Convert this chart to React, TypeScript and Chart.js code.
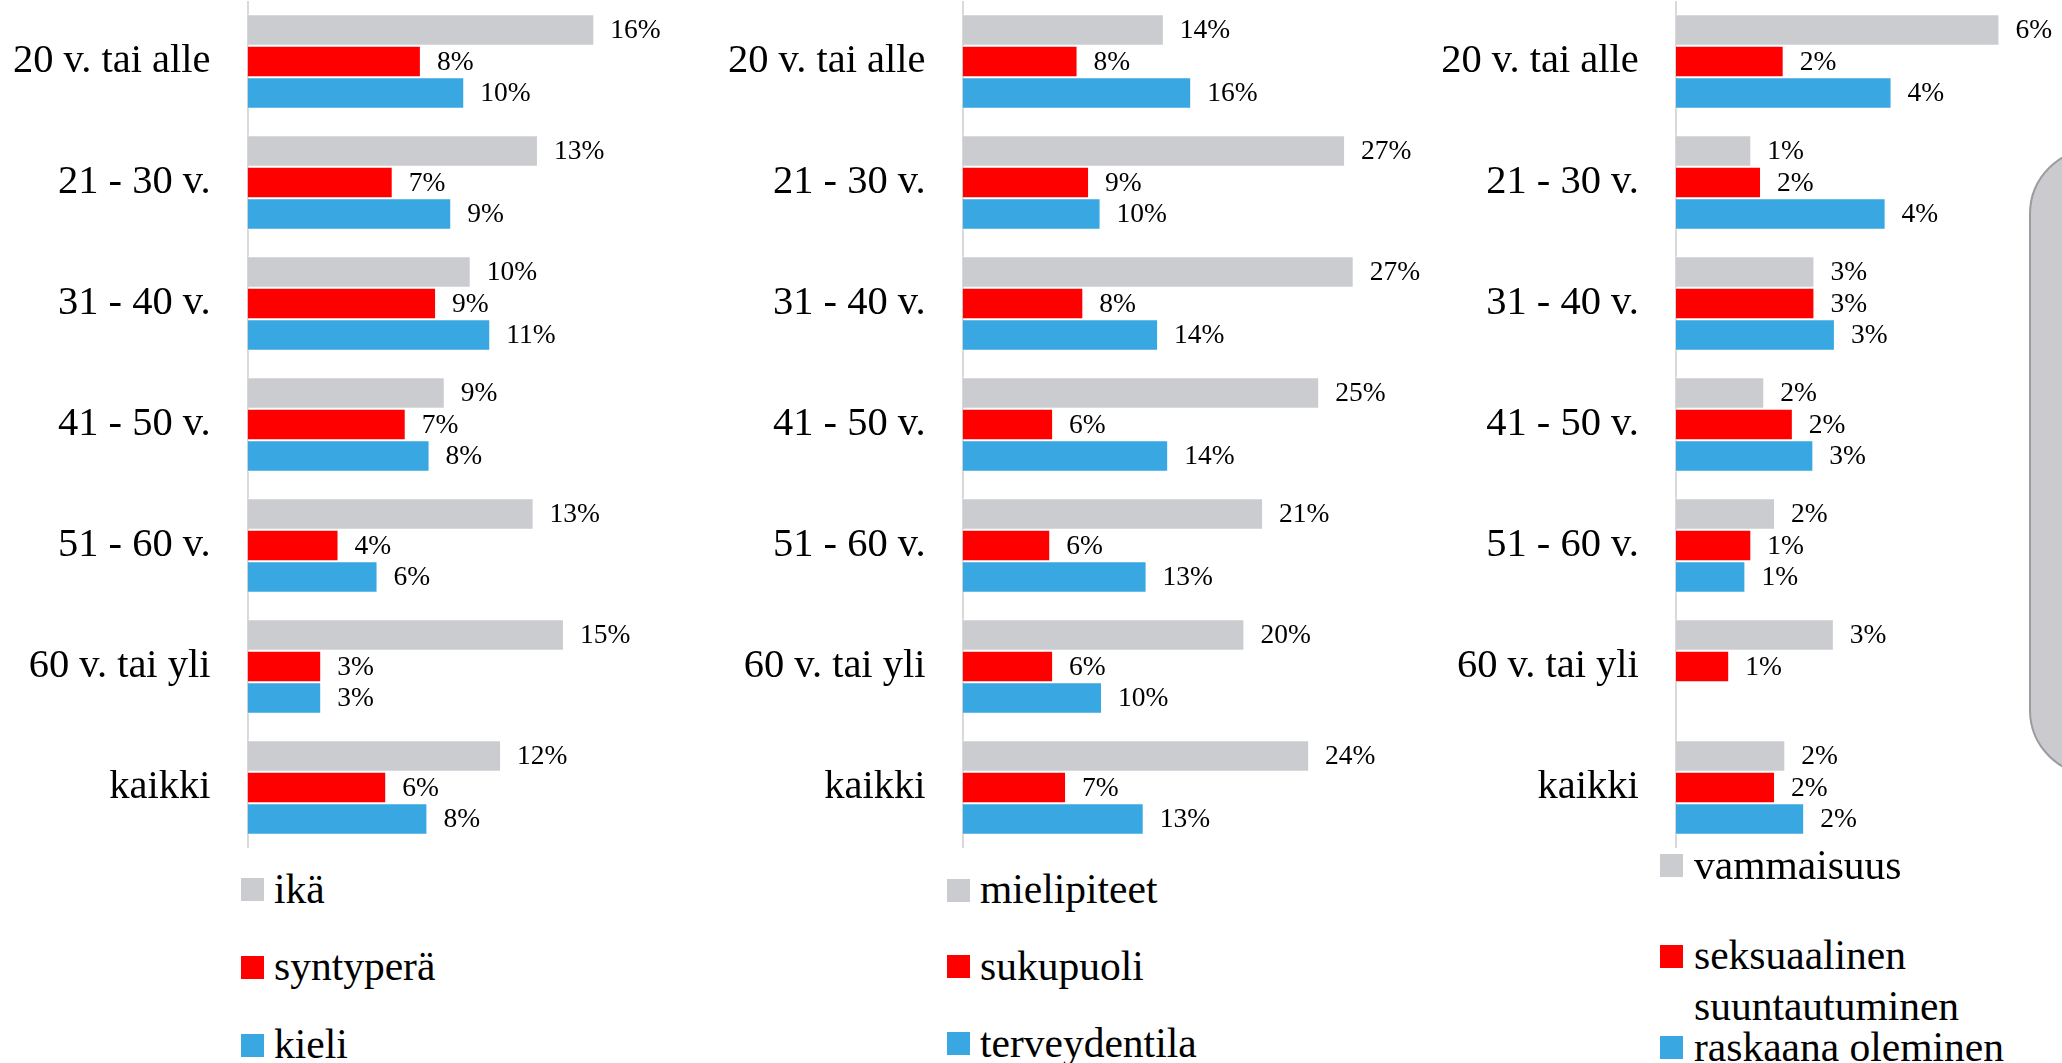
import React, { useEffect, useRef } from "react";
import { Chart, registerables } from "chart.js";

Chart.register(...registerables);

// ---------- data ----------
const CATEGORIES = ["20 v. tai alle", "21 - 30 v.", "31 - 40 v.", "41 - 50 v.", "51 - 60 v.", "60 v. tai yli", "kaikki"];

// panel 1
const NAMES_1 = ["ikä", "syntyperä", "kieli"];
const IKA = [16.0, 13.4, 10.3, 9.1, 13.2, 14.6, 11.7];
const SYNTYPERA = [8.0, 6.7, 8.7, 7.3, 4.2, 3.4, 6.4];
const KIELI = [10.0, 9.4, 11.2, 8.4, 6.0, 3.4, 8.3];

// panel 2
const NAMES_2 = ["mielipiteet", "sukupuoli", "terveydentila"];
const MIELIPITEET = [14.0, 26.6, 27.2, 24.8, 20.9, 19.6, 24.1];
const SUKUPUOLI = [8.0, 8.8, 8.4, 6.3, 6.1, 6.3, 7.2];
const TERVEYDENTILA = [15.9, 9.6, 13.6, 14.3, 12.8, 9.7, 12.6];

// panel 3
const NAMES_3 = ["vammaisuus", "seksuaalinen suuntautuminen", "raskaana oleminen"];
const VAMMAISUUS = [6.0, 1.4, 2.57, 1.64, 1.84, 2.93, 2.03];
const SEKSUAALINEN = [2.0, 1.58, 2.57, 2.17, 1.4, 0.99, 1.84];
const RASKAANA: (number | null)[] = [4.0, 3.89, 2.95, 2.55, 1.29, null, 2.38];

const COLORS = ["#cbccd0", "#ff0000", "#39a7e2"];

// ---------- styles / layout ----------
const FONT = '"Liberation Serif", "Times New Roman", serif';
const CAT_FONT_SIZE = 40.5;
const LABEL_FONT_SIZE = 27.5;
const LEGEND_FONT_SIZE = 41.5;
const CHART_TOP = 1;
const CHART_HEIGHT = 847;

const PANELS = [
  { left: 0, width: 720, axisW: 247.5, xMax: 21.8, names: NAMES_1, series: [IKA, SYNTYPERA, KIELI], sqX: 241, textX: 274, legendY: [889.5, 967, 1045] },
  { left: 720, width: 720, axisW: 242.5, xMax: 33.2, names: NAMES_2, series: [MIELIPITEET, SUKUPUOLI, TERVEYDENTILA], sqX: 947, textX: 980, legendY: [890, 966.5, 1043.5] },
  { left: 1440, width: 622, axisW: 235.8, xMax: 7.16, names: NAMES_3, series: [VAMMAISUUS, SEKSUAALINEN, RASKAANA], sqX: 1660, textX: 1694, legendY: [865.5, 956, 1047.5] },
];

const valueLabelPlugin = {
  id: "valueLabels",
  afterDatasetsDraw(chart: any) {
    const ctx = chart.ctx;
    ctx.save();
    ctx.font = `${LABEL_FONT_SIZE}px ${FONT}`;
    ctx.fillStyle = "#000";
    ctx.textBaseline = "middle";
    ctx.textAlign = "left";
    chart.data.datasets.forEach((ds: any, i: number) => {
      const meta = chart.getDatasetMeta(i);
      meta.data.forEach((el: any, j: number) => {
        const v = ds.data[j];
        if (v === null || v === undefined) return;
        ctx.fillText(Math.round(v) + "%", el.x + 16, el.y + 1);
      });
    });
    ctx.restore();
  },
};

function Panel({ p }: { p: (typeof PANELS)[number] }) {
  const ref = useRef<HTMLCanvasElement | null>(null);
  useEffect(() => {
    if (!ref.current) return;
    const chart = new Chart(ref.current, {
      type: "bar",
      data: {
        labels: CATEGORIES,
        datasets: p.series.map((s, i) => ({
          label: p.names[i],
          data: s as any,
          backgroundColor: COLORS[i],
          borderColor: "rgba(255,255,255,0.7)",
          borderWidth: 1,
          categoryPercentage: 0.78,
          barPercentage: 1,
        })),
      },
      options: {
        indexAxis: "y",
        animation: false,
        responsive: true,
        maintainAspectRatio: false,
        layout: { padding: 0 },
        plugins: { legend: { display: false }, tooltip: { enabled: false } },
        scales: {
          x: { display: false, min: 0, max: p.xMax },
          y: {
            grid: { display: false, drawTicks: false },
            border: { display: true, color: "#d9d9d9", width: 2 },
            ticks: {
              color: "#000",
              font: { family: FONT, size: CAT_FONT_SIZE },
              padding: 37,
              autoSkip: false,
            },
            afterFit(scale: any) {
              scale.width = p.axisW;
              scale.paddingTop = 0;
              scale.paddingBottom = 0;
            },
          },
        },
      },
      plugins: [valueLabelPlugin],
    } as any);
    return () => chart.destroy();
  }, [p]);

  return (
    <>
      <div style={{ position: "absolute", left: p.left, top: CHART_TOP, width: p.width, height: CHART_HEIGHT }}>
        <canvas ref={ref} />
      </div>
      {p.names.map((name, i) => (
        <React.Fragment key={name}>
          <div
            style={{
              position: "absolute",
              left: p.sqX,
              top: p.legendY[i] - 11.5,
              width: 23,
              height: 23,
              background: COLORS[i],
            }}
          />
          <div
            style={{
              position: "absolute",
              left: p.textX,
              top: p.legendY[i] - 26,
              width: 360,
              fontFamily: FONT,
              fontSize: LEGEND_FONT_SIZE,
              lineHeight: "51px",
              color: "#000",
              whiteSpace: "normal",
            }}
          >
            {name}
          </div>
        </React.Fragment>
      ))}
    </>
  );
}

export default function App() {
  return (
    <div
      style={{
        position: "fixed",
        left: 0,
        top: 0,
        width: 2062,
        height: 1063,
        overflow: "hidden",
        background: "#fff",
      }}
    >
      {PANELS.map((p, i) => (
        <Panel key={i} p={p} />
      ))}
      <div
        style={{
          position: "absolute",
          left: 2029,
          top: 148,
          width: 140,
          height: 628,
          borderRadius: 66,
          background: "#cbcbcf",
          border: "2.5px solid #9c9ca0",
          boxSizing: "border-box",
        }}
      />
    </div>
  );
}
